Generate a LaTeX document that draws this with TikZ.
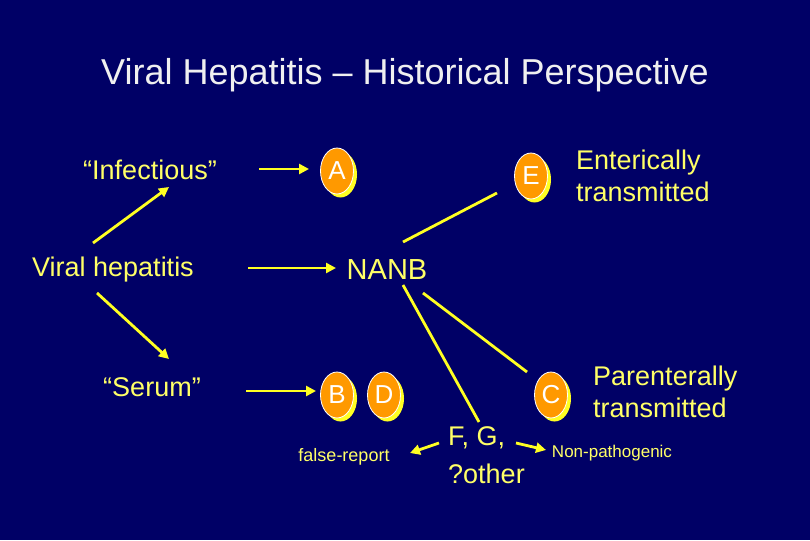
\documentclass[tikz,border=0pt]{standalone}
\usepackage{fontspec}
\setmainfont{Liberation Sans}
\usetikzlibrary{shapes.geometric,arrows.meta,shadows}
\definecolor{bgnavy}{HTML}{000066}
\definecolor{txtyellow}{HTML}{FFFF66}
\definecolor{lineyellow}{HTML}{FFFF22}
\definecolor{ovalorange}{HTML}{FF9900}
\definecolor{titlewhite}{HTML}{F0F0F0}
\tikzset{
  lbl/.style={text=txtyellow, font=\fontsize{27}{32}\selectfont, inner sep=0pt},
  small/.style={text=txtyellow, font=\fontsize{18}{21}\selectfont, inner sep=0pt},
  oval/.style={ellipse, fill=ovalorange, draw=white, line width=0.8pt,
    minimum width=33pt, minimum height=46pt, inner sep=0pt,
    text=white, font=\fontsize{26}{30}\selectfont,
    drop shadow={shadow xshift=3.5pt, shadow yshift=-3.5pt, fill=lineyellow, opacity=1}},
  arr/.style={draw=lineyellow, line width=2.8pt, -{Triangle[length=10pt,width=10pt]}},
  ln/.style={draw=lineyellow, line width=2.8pt}
}
\begin{document}
\begin{tikzpicture}[x=1pt,y=-1pt]
\fill[bgnavy] (0,0) rectangle (810,540);
\useasboundingbox (0,0) rectangle (810,540);

\node[text=titlewhite, font=\fontsize{36}{40}\selectfont, inner sep=0pt] (title) at (405,75) {Viral Hepatitis – Historical Perspective};

\node[lbl] (inf) at (150,170) {“Infectious”};
\node[lbl] (vh) at (113,270) {Viral hepatitis};
\node[lbl] (ser) at (152,387) {“Serum”};

\node[oval] (A) at (337,171) {A};
\node[oval] (E) at (531,176) {E};
\node[oval] (B) at (337,395) {B};
\node[oval] (D) at (384,395) {D};
\node[oval] (C) at (551,395) {C};

\node[lbl, font=\fontsize{29}{34}\selectfont] (nanb) at (387,270) {NANB};

\node[lbl, anchor=west, align=left, font=\fontsize{27}{32.5}\selectfont] (ent) at (576,176) {Enterically\\transmitted};
\node[lbl, anchor=west, align=left, font=\fontsize{27}{32.5}\selectfont] (par) at (593,392) {Parenterally\\transmitted};

\node[lbl, anchor=west, align=left, font=\fontsize{27}{38}\selectfont] (fg) at (448,455) {F, G,\\?other};
\node[small] (fr) at (344,457) {false-report};
\node[small, font=\fontsize{17}{20}\selectfont] (np) at (612,453) {Non-pathogenic};

% connector end points
\coordinate (vhU) at (93,243);
\coordinate (infB) at (169,187);
\coordinate (vhD) at (97,293);
\coordinate (serT) at (169,359);
\coordinate (infR) at (259,169);
\coordinate (aL) at (309,169);
\coordinate (vhR) at (248,268);
\coordinate (nanbL) at (336,268);
\coordinate (serR) at (246,391);
\coordinate (bL) at (316,391);
\coordinate (nanbA) at (403,242);
\coordinate (Ew) at (497,193);
\coordinate (nanbB) at (403,285);
\coordinate (fgT) at (479,422);
\coordinate (nanbC) at (423,293);
\coordinate (Cw) at (527,372);
\coordinate (fgL) at (439,443);
\coordinate (frR) at (410,453);
\coordinate (fgR) at (516,443);
\coordinate (npL) at (546,450);

\draw[arr] (vhU) -- (infB);
\draw[arr] (vhD) -- (serT);
\draw[arr] (infR) -- (aL);
\draw[arr] (vhR) -- (nanbL);
\draw[arr] (serR) -- (bL);
\draw[ln] (nanbA) -- (Ew);
\draw[ln] (nanbB) -- (fgT);
\draw[ln] (nanbC) -- (Cw);
\draw[arr] (fgL) -- (frR);
\draw[arr] (fgR) -- (npL);
\end{tikzpicture}
\end{document}
